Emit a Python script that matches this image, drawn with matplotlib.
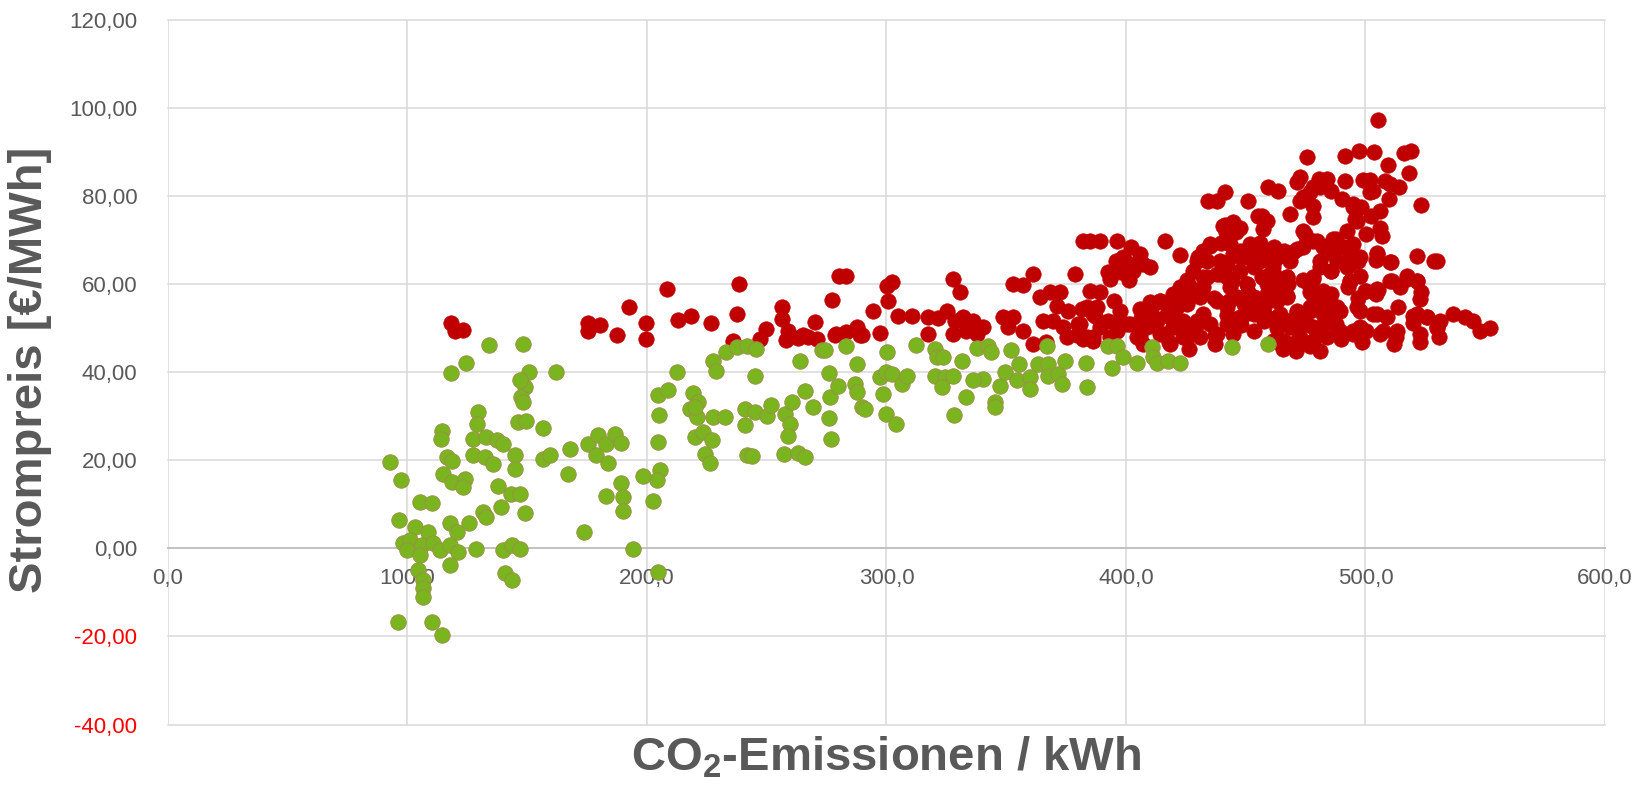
import matplotlib
matplotlib.use("Agg")
import matplotlib.pyplot as plt

# Values (CO2 g/kWh, price EUR/MWh)
green_x = [
    92.7, 97.3, 114.3, 114.0, 129.6, 128.9, 116.4, 118.4, 115.0, 118.4, 124.0, 123.3,
    127.5, 133.0, 137.2, 140.0, 127.5, 132.4, 135.8, 144.9, 144.9, 137.9, 143.4, 147.2,
    139.2, 149.1, 131.7, 133.0, 125.8, 128.6, 140.0, 143.5, 147.2, 140.7, 143.8, 105.2,
    110.1, 96.6, 103.1, 108.7, 117.7, 120.5, 98.2, 101.0, 99.7, 105.9, 110.8, 113.6,
    117.7, 121.2, 105.2, 117.7, 104.5, 106.6, 106.6, 106.6, 96.2, 110.1, 114.3, 149.1,
    147.6, 148.3, 146.3, 149.7, 156.7, 156.7, 159.5, 167.8, 167.1, 118.2, 124.3, 134.2,
    148.1, 150.9, 147.2, 162.2, 204.7, 208.6, 212.7, 205.1, 204.5, 205.4, 204.0, 198.5,
    202.4, 204.7, 194.3, 173.7, 175.5, 179.6, 183.1, 186.6, 189.3, 178.9, 183.9, 189.0,
    190.2, 190.2, 182.7, 227.7, 229.0, 233.2, 219.3, 221.4, 218.0, 220.7, 227.7, 232.6,
    220.0, 223.5, 227.0, 224.2, 226.3, 237.4, 241.6, 245.7, 245.1, 264.1, 272.9, 220.0,
    240.9, 245.1, 250.0, 252.0, 240.9, 241.6, 243.8, 257.5, 260.4, 259.7, 258.7, 257.3,
    263.2, 266.0, 266.0, 269.4, 274.3, 276.1, 276.4, 279.9, 276.1, 277.0, 283.1, 287.5,
    286.8, 287.5, 289.6, 291.0, 300.4, 297.3, 299.8, 302.2, 298.7, 299.8, 303.8, 306.3,
    308.4, 312.3, 320.3, 320.9, 323.7, 320.3, 324.4, 323.0, 327.9, 331.6, 333.4, 328.2,
    337.6, 342.5, 343.8, 340.4, 336.3, 345.3, 345.3, 347.4, 349.5, 351.8, 355.4, 354.3,
    359.9, 359.9, 363.4, 367.0, 367.5, 367.5, 371.7, 373.1, 374.5, 383.3, 383.6, 392.6,
    396.3, 394.0, 398.9, 404.4, 410.7, 411.4, 412.8, 417.6, 422.5, 444.1, 459.4,
]
green_y = [
    19.6, 15.6, 26.7, 24.9, 30.9, 28.3, 20.7, 19.9, 16.9, 15.0, 15.8, 13.9,
    24.9, 25.2, 24.5, 23.7, 21.1, 20.7, 19.2, 21.1, 18.1, 14.1, 12.4, 12.4,
    9.4, 7.9, 8.2, 7.0, 5.7, -0.1, -0.5, 0.7, -0.1, -5.7, -7.3, 10.5,
    10.3, 6.5, 4.8, 3.7, 5.7, 3.7, 1.1, 1.8, -0.5, 0.7, 1.1, -0.5,
    0.7, -0.8, -1.6, -3.9, -5.0, -7.3, -9.1, -11.0, -16.7, -16.7, -19.7, 36.7,
    34.3, 33.2, 28.6, 29.0, 27.3, 20.3, 21.1, 22.6, 16.9, 39.7, 42.0, 46.2,
    46.4, 40.0, 38.1, 40.0, 34.8, 36.0, 39.9, 30.3, 24.2, 17.8, 15.6, 16.5,
    10.7, -5.4, -0.1, 3.7, 23.7, 25.6, 23.7, 26.0, 23.9, 21.1, 19.3, 14.8,
    11.6, 8.4, 11.8, 42.6, 40.2, 44.5, 35.2, 33.2, 31.6, 29.8, 29.8, 29.8,
    25.2, 26.4, 24.5, 21.5, 19.3, 45.7, 46.0, 45.2, 39.0, 42.4, 44.9, 32.0,
    31.6, 30.9, 30.1, 32.6, 27.9, 21.1, 20.9, 30.5, 33.2, 28.3, 25.5, 21.3,
    21.7, 20.7, 35.8, 32.0, 45.0, 39.8, 34.4, 36.9, 29.6, 24.9, 46.0, 41.8,
    37.3, 35.5, 32.0, 31.6, 44.6, 38.8, 40.0, 39.6, 35.1, 30.5, 28.3, 37.3,
    39.2, 46.2, 45.2, 43.4, 43.4, 39.2, 38.8, 36.6, 39.2, 42.6, 34.3, 30.3,
    45.4, 46.0, 44.5, 38.4, 38.1, 33.2, 32.0, 36.9, 40.0, 44.9, 41.9, 38.1,
    38.8, 36.2, 41.9, 45.8, 41.9, 39.2, 39.6, 37.3, 42.6, 42.0, 36.7, 46.0,
    46.0, 41.0, 43.4, 42.0, 45.7, 43.4, 42.0, 42.6, 42.0, 45.7, 46.4,
]

red_x = [
    118.2, 119.8, 123.0, 175.5, 175.5, 180.4, 187.3, 192.6, 199.5, 199.8, 208.2, 213.1,
    218.2, 226.7, 238.5, 237.4, 236.0, 249.5, 247.2, 256.2, 256.2, 258.9, 258.2, 263.2,
    267.3, 270.1, 270.8, 280.3, 283.3, 277.1, 278.5, 283.3, 287.5, 289.6, 294.5, 297.3,
    300.4, 302.2, 300.8, 305.0, 310.5, 317.5, 317.5, 321.6, 325.1, 327.6, 330.6, 328.6,
    327.9, 332.0, 336.3, 333.4, 337.6, 340.4, 348.8, 352.9, 357.1, 361.3, 352.9, 350.8,
    357.1, 361.3, 364.1, 368.3, 372.4, 371.0, 369.6, 365.4, 373.8, 378.7, 375.9, 381.5,
    379.4, 385.0, 385.0, 381.9, 386.4, 386.4, 265.3, 279.1, 288.9, 389.2, 394.8, 392.3,
    396.0, 398.9, 403.1, 407.2, 389.2, 396.1, 401.7, 407.2, 405.8, 382.1, 375.2, 366.8,
    379.9, 434.4, 437.9, 441.3, 450.8, 459.4, 463.6, 471.3, 478.2, 472.7, 468.5, 478.2,
    456.6, 458.7, 441.3, 444.8, 447.6, 457.3, 389.2, 396.1, 402.3, 405.8, 401.7, 410.0,
    398.1, 416.3, 422.5, 429.5, 431.5, 434.9, 428.1, 432.3, 426.7, 422.5, 425.3, 419.0,
    414.2, 410.0, 405.8, 383.6, 387.8, 387.1, 397.5, 392.3, 396.1, 400.3, 380.8, 383.6,
    386.4, 404.4, 407.2, 408.6, 412.8, 410.7, 417.0, 421.2, 419.7, 415.5, 418.4, 423.9,
    426.7, 429.5, 432.3, 434.9, 437.1, 430.9, 442.0, 446.2, 450.4, 444.1, 439.2, 442.0,
    447.6, 451.8, 456.0, 458.7, 464.3, 469.8, 474.0, 478.2, 482.3, 486.5, 481.2, 485.4,
    478.2, 467.4, 461.8, 456.6, 458.7, 463.0, 467.4, 453.3, 449.8, 453.3, 457.5, 463.0,
    467.8, 471.3, 476.9, 476.9, 485.4, 488.1, 482.3, 478.2, 469.8, 472.7, 478.2, 483.8,
    465.6, 461.4, 447.6, 442.0, 444.8, 453.3, 457.5, 505.1, 475.4, 491.4, 497.4, 503.5,
    516.1, 519.0, 509.5, 518.2, 472.7, 480.4, 483.8, 491.4, 499.1, 501.9, 508.1, 510.2,
    514.1, 485.8, 503.2, 490.0, 494.8, 498.3, 509.9, 523.0, 473.9, 478.2, 495.6, 502.5,
    506.0, 474.7, 486.5, 492.1, 500.4, 506.0, 506.7, 491.0, 497.7, 504.7, 510.6, 521.6,
    529.7, 493.7, 493.7, 477.5, 499.8, 505.3, 510.9, 514.4, 517.2, 521.4, 523.0, 513.6,
    497.7, 504.7, 476.9, 486.5, 520.0, 525.6, 531.2, 536.7, 541.6, 545.0, 547.8, 552.0,
    480.7, 494.8, 500.4, 507.4, 512.9, 522.7, 529.7, 487.5, 441.6, 445.9, 393.4, 401.3,
    439.5, 425.6, 432.1, 412.1, 406.4, 393.4, 417.9, 426.5, 437.3, 423.6, 436.6, 443.0,
    451.0, 442.3, 448.1, 458.1, 463.2, 465.4, 471.1, 476.8, 481.1, 461.4, 467.5, 474.0,
    478.3, 484.1, 492.7, 497.0, 504.2, 522.9, 504.2, 520.0, 522.9, 530.8, 498.4, 489.8,
    512.0, 485.0, 474.0,
    # dense core, 420-530
    501.9, 476.9, 481.2, 494.8, 496.3, 487.9, 494.8, 483.8, 479.6, 474.0, 475.4, 471.3,
    465.8, 461.6, 456.0, 451.8, 447.6, 443.4, 440.6, 444.8, 455.2, 435.1, 432.3, 430.2,
    433.7, 439.2, 444.8, 450.4, 456.0, 461.6, 468.5, 481.2, 488.1, 493.7, 492.1, 497.0,
    504.7, 510.2, 528.6, 422.5, 437.9, 442.1, 447.6, 453.3, 460.1, 467.1, 478.2, 485.4,
    493.7, 497.9, 433.7, 443.4, 450.4, 461.6, 465.8, 476.9, 482.4, 500.4, 504.7, 510.2,
    517.2, 521.4, 521.4, 525.6, 529.7, 414.2, 419.7, 425.3, 430.9, 437.9, 442.1, 449.1,
    454.7, 463.0, 467.1, 471.3, 477.5, 483.8, 489.4, 496.3, 503.2, 508.8, 408.6, 411.4,
    418.4, 423.9, 429.5, 437.9, 447.6, 453.3, 458.7, 464.3, 468.5, 475.4, 481.2, 489.4,
    497.7, 506.0, 513.0, 461.6, 465.8, 471.3, 478.2, 494.8, 419.7, 414.2, 425.3, 407.2,
    458.7,
]
red_y = [
    51.1, 49.4, 49.6, 51.1, 49.4, 50.7, 48.3, 54.8, 51.1, 47.5, 58.8, 51.9,
    52.8, 51.1, 60.0, 53.2, 47.1, 49.8, 47.5, 54.7, 52.1, 49.4, 47.3, 47.7,
    48.0, 51.3, 47.5, 61.9, 61.9, 56.4, 48.3, 49.0, 50.2, 48.3, 53.9, 48.8,
    59.6, 60.4, 56.2, 52.8, 52.8, 52.4, 48.6, 52.3, 53.9, 61.1, 58.1, 51.7,
    48.6, 52.4, 51.7, 49.4, 48.6, 50.2, 52.4, 60.0, 59.8, 62.3, 52.4, 50.2,
    49.4, 46.4, 57.0, 58.1, 58.1, 55.1, 51.7, 51.7, 50.2, 62.3, 53.9, 54.3,
    48.3, 58.5, 69.8, 69.8, 53.2, 47.9, 48.3, 48.6, 48.3, 58.1, 56.2, 62.6,
    65.3, 66.0, 63.0, 64.5, 50.2, 49.4, 50.9, 53.9, 47.9, 47.5, 47.9, 46.8,
    50.9, 78.9, 78.9, 80.8, 78.9, 81.9, 81.1, 83.1, 81.9, 78.9, 75.9, 75.1,
    75.5, 74.3, 73.3, 74.0, 72.8, 72.5, 69.8, 69.8, 68.3, 66.8, 64.5, 63.9,
    62.6, 69.8, 66.6, 65.3, 66.4, 68.7, 63.0, 61.5, 59.3, 57.7, 55.5, 55.5,
    56.2, 55.9, 54.3, 54.7, 54.7, 52.8, 53.9, 51.7, 50.9, 50.9, 50.9, 47.9,
    47.1, 47.9, 46.4, 50.2, 51.7, 55.1, 53.2, 54.7, 50.2, 48.6, 46.4, 47.9,
    49.4, 51.7, 53.2, 50.9, 48.3, 47.9, 55.5, 57.0, 60.0, 60.7, 62.3, 64.5,
    66.0, 67.5, 69.4, 66.0, 66.4, 67.2, 68.3, 69.8, 68.3, 66.8, 63.8, 63.0,
    61.1, 61.5, 62.3, 61.5, 60.0, 57.0, 57.3, 57.0, 53.2, 53.9, 54.7, 52.4,
    51.7, 53.6, 54.7, 58.1, 57.7, 54.7, 53.2, 50.2, 50.2, 47.9, 47.1, 47.9,
    47.1, 47.1, 51.7, 50.9, 48.6, 49.4, 51.7, 97.2, 88.7, 89.0, 90.1, 89.9,
    89.7, 90.1, 87.0, 85.1, 84.2, 83.8, 83.8, 83.3, 83.6, 83.6, 83.4, 82.6,
    82.0, 81.1, 81.0, 79.2, 78.1, 77.4, 79.2, 78.0, 79.7, 77.7, 74.7, 75.5,
    76.6, 71.3, 70.2, 72.1, 71.3, 72.8, 70.9, 68.3, 66.0, 67.0, 64.9, 66.4,
    65.1, 64.5, 60.7, 58.1, 58.5, 58.6, 60.7, 59.2, 61.9, 60.7, 58.1, 54.7,
    53.9, 53.2, 53.9, 53.9, 52.8, 52.4, 51.7, 53.2, 52.4, 51.7, 49.4, 50.0,
    49.4, 49.4, 49.4, 49.4, 47.9, 48.6, 50.0, 50.9, 71.7, 71.7, 61.2, 61.0,
    69.4, 60.8, 59.2, 52.2, 52.2, 47.9, 46.8, 45.2, 46.4, 51.4, 56.9, 56.1,
    58.1, 53.0, 50.6, 52.2, 49.9, 45.2, 44.8, 46.0, 44.8, 63.9, 60.0, 60.8,
    56.9, 56.9, 59.2, 56.9, 57.7, 56.5, 65.5, 51.1, 46.8, 47.9, 46.8, 47.5,
    46.4, 51.4, 51.4,
    # dense core, 420-530
    80.8, 80.8, 81.9, 77.4, 74.3, 70.2, 69.1, 68.7, 69.8, 72.1, 69.8, 67.9,
    67.5, 68.3, 67.5, 69.1, 67.5, 69.1, 73.2, 73.6, 75.5, 69.1, 67.5, 66.0,
    65.3, 65.3, 66.8, 66.0, 65.3, 65.3, 65.3, 65.3, 65.3, 66.8, 63.8, 65.3,
    66.8, 64.9, 65.3, 59.2, 62.3, 61.5, 63.0, 63.8, 62.3, 61.5, 61.5, 63.0,
    60.7, 61.9, 61.5, 59.2, 60.0, 60.0, 57.7, 59.2, 58.5, 58.5, 58.9, 60.7,
    61.1, 60.7, 53.2, 52.4, 50.2, 56.2, 57.7, 57.7, 57.0, 56.2, 54.7, 55.5,
    54.7, 56.2, 57.0, 53.9, 54.7, 55.5, 53.9, 54.7, 53.2, 52.4, 53.9, 51.7,
    52.4, 51.7, 50.9, 48.6, 52.4, 53.2, 52.4, 53.2, 50.2, 50.9, 50.2, 49.4,
    50.2, 48.6, 49.4, 47.1, 47.1, 47.1, 47.1, 48.6, 50.2, 48.6, 47.9, 50.2,
    57.7,
]

x_ticks = [0, 100, 200, 300, 400, 500, 600]
y_ticks = [-40, -20, 0, 20, 40, 60, 80, 100, 120]

x_title = "CO$_{\\mathbf{2}}$-Emissionen / kWh"
y_title = "Strompreis [€/MWh]"

TEXT_GREY = "#595959"
GRID_GREY = "#d9d9d9"


def plot_scatter(output_filename="out.png"):
    plt.rcParams["font.family"] = ["Liberation Sans", "DejaVu Sans"]
    plt.rcParams["mathtext.fontset"] = "custom"
    plt.rcParams["mathtext.rm"] = "Liberation Sans:bold"
    plt.rcParams["mathtext.bf"] = "Liberation Sans:bold"

    fig = plt.figure(figsize=(16.48, 7.86), dpi=100)
    ax = fig.add_axes([0.1019, 0.0782, 0.8720, 0.8969])

    # red first, green is drawn on top in the original
    ax.scatter(red_x, red_y, s=125, color="#c00000", edgecolors="#c00000",
               linewidths=0.4, zorder=3)
    ax.scatter(green_x, green_y, s=125, color="#7ab41e", edgecolors="#a08c4c",
               linewidths=0.6, zorder=4)

    ax.set_xlim(0, 600)
    ax.set_ylim(-40, 120)
    ax.set_xticks(x_ticks)
    ax.set_yticks(y_ticks)
    ax.set_xticklabels([f"{v:.1f}".replace(".", ",") for v in x_ticks])
    ax.set_yticklabels([f"{v:.2f}".replace(".", ",") for v in y_ticks])

    ax.tick_params(axis="both", length=0, labelsize=16, labelcolor=TEXT_GREY)
    ax.tick_params(axis="y", pad=22)
    ax.tick_params(axis="x", pad=14)
    for lab, v in zip(ax.get_yticklabels(), y_ticks):
        if v < 0:
            lab.set_color("#ff0000")

    ax.grid(True, color=GRID_GREY, linewidth=1.1, zorder=0)
    ax.set_axisbelow(True)
    for line in ax.get_xgridlines() + ax.get_ygridlines():
        line.set_clip_on(False)

    for side in ["top", "right", "left"]:
        ax.spines[side].set_visible(False)
    # horizontal axis crosses at zero
    ax.spines["bottom"].set_position(("data", 0))
    ax.spines["bottom"].set_color("#bfbfbf")
    ax.spines["bottom"].set_linewidth(1.3)
    ax.spines["bottom"].set_zorder(1)

    fig.text(0.5376, 0.0356, x_title, ha="center", va="center",
             fontsize=34, fontweight="bold", color=TEXT_GREY)
    fig.text(0.0180, 0.529, y_title, ha="center", va="center", rotation=90,
             fontsize=34, fontweight="bold", color=TEXT_GREY)

    fig.savefig(output_filename, dpi=100, facecolor="white")


def main():
    plot_scatter()


if __name__ == "__main__":
    main()
